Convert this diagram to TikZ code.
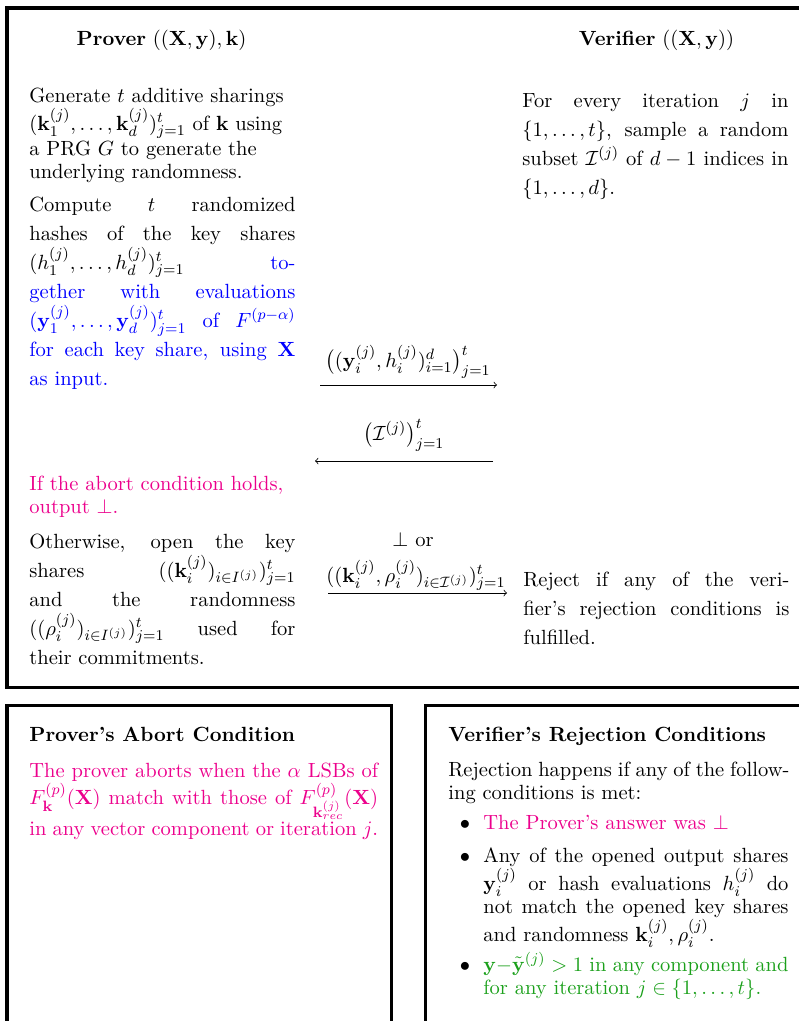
\documentclass[11pt,tikz,border=0pt]{standalone}
\usepackage{amsmath}
\usepackage{amssymb}
\definecolor{abortpink}{HTML}{EC008C}
\definecolor{rejgreen}{HTML}{1BA01B}

\begin{document}
\begin{tikzpicture}[x=0.5333pt, y=-0.5333pt,
    font=\fontsize{10.95}{12.3}\selectfont,
    txt/.style={anchor=base west, inner sep=0pt, text width=141.9pt, align=justify,
        font=\fontsize{10.95}{15.5}\selectfont},
    tighttxt/.style={txt, font=\fontsize{10.95}{12.3}\selectfont},
    boxtxt/.style={tighttxt, text width=181.9pt},
    itemtxt/.style={tighttxt, text width=162.7pt},
    lbl/.style={anchor=base, inner sep=0pt},
    headtxt/.style={anchor=base west, inner sep=0pt, font=\bfseries},
    frame/.style={line width=1.6pt}]

        \useasboundingbox (0,0) rectangle (799,1021);
        \clip (0,0) rectangle (799,1021);

        % 1. 枠の描画
        \draw[frame] (7,8) rectangle (840,687);
        \draw[frame] (7,705) rectangle (391,1060);
        \draw[frame] (425,705) rectangle (840,1060);

        % 2. 見出し
        \node[lbl] (phead) at (161.5,45) {\textbf{Prover} $((\mathbf{X},\mathbf{y}),\mathbf{k})$};
        \node[lbl] (vhead) at (656.5,45) {\textbf{Verifier} $((\mathbf{X},\mathbf{y}))$};

        % 3. Prover 側の手順
        \node[tighttxt, align=left] (gen) at (29,102)
            {Generate $t$ additive sharings $(\mathbf{k}_1^{(j)},\ldots,\mathbf{k}_d^{(j)})_{j=1}^t$
            of $\mathbf{k}$ using a PRG $G$ to generate the underlying randomness.};
        \node[txt] (hash) at (29,211)
            {Compute $t$ randomized hashes of the key shares $(h_1^{(j)},\ldots,h_d^{(j)})_{j=1}^t$
            \textcolor{blue}{together with evaluations $(\mathbf{y}_1^{(j)},\ldots,\mathbf{y}_d^{(j)})_{j=1}^t$
            of $F^{(p-\alpha)}$ for each key share, using $\mathbf{X}$ as input.}};
        \node[tighttxt, align=left, text=abortpink] (abort) at (29,490)
            {If the abort condition holds, output $\perp$.};
        \node[txt] (open) at (29,548)
            {Otherwise, open the key shares $((\mathbf{k}_i^{(j)})_{i\in I^{(j)}})_{j=1}^t$
            and the randomness $((\rho_i^{(j)})_{i\in I^{(j)}})_{j=1}^t$ used for their commitments.};

        % 4. Verifier 側の手順
        \node[txt] (sample) at (522,107)
            {For every iteration $j$ in $\{1,\ldots,t\}$, sample a random subset
            $\mathcal{I}^{(j)}$ of $d-1$ indices in $\{1,\ldots,d\}$.};
        \node[txt] (reject) at (523,586)
            {Reject if any of the verifier's rejection conditions is fulfilled.};

        % 5. メッセージ（矢印とラベル）
        \coordinate (m1s) at (320,385);
        \coordinate (m1e) at (497,385);
        \coordinate (m2s) at (493,461);
        \coordinate (m2e) at (315,461);
        \coordinate (m3s) at (328,593);
        \coordinate (m3e) at (507,593);
        \node[lbl] (msg1) at (408,367)
            {$\big((\mathbf{y}_i^{(j)},h_i^{(j)})_{i=1}^d\big)_{j=1}^t$};
        \node[lbl] (msg2) at (404,440) {$\big(\mathcal{I}^{(j)}\big)_{j=1}^t$};
        \node[lbl] (msg3a) at (413,546) {$\perp$ or};
        \node[lbl] (msg3b) at (416,582)
            {$((\mathbf{k}_i^{(j)},\rho_i^{(j)})_{i\in\mathcal{I}^{(j)}})_{j=1}^t$};
        \draw[->] (m1s) -- (m1e);
        \draw[->] (m2s) -- (m2e);
        \draw[->] (m3s) -- (m3e);

        % 6. 下段の二つの枠
        \node[headtxt] (aborthead) at (29,741) {Prover's Abort Condition};
        \node[boxtxt, text width=186pt, text=abortpink] (aborttxt) at (29,777)
            {The prover aborts when the $\alpha$ LSBs of $F_{\mathbf{k}}^{(p)}(\mathbf{X})$ match with
            those of $F_{\mathbf{k}_{rec}^{(j)}}^{(p)}(\mathbf{X})$ in any vector component or iteration $j$.};

        \node[headtxt] (rejhead) at (448,741) {Verifier's Rejection Conditions};
        \node[boxtxt] (rejtxt) at (448,776)
            {Rejection happens if any of the following conditions is met:};
        \foreach \y/\n in {829/a, 862/b, 971/c}
            \node[lbl] (bul\n) at (465,\y) {$\bullet$};
        \node[itemtxt, text=abortpink] (itema) at (483,829) {The Prover's answer was $\perp$};
        \node[itemtxt] (itemb) at (483,862)
            {Any of the opened output shares $\mathbf{y}_i^{(j)}$ or hash evaluations $h_i^{(j)}$ do\linebreak
            not match the opened key shares and randomness $\mathbf{k}_i^{(j)},\rho_i^{(j)}$.};
        \node[itemtxt, text=rejgreen] (itemc) at (483,971)
            {$\mathbf{y}{-}\tilde{\mathbf{y}}^{(j)}>1$ in any component and for any iteration
            $j\in\{1,\ldots,t\}$.};
    \end{tikzpicture}
\end{document}
